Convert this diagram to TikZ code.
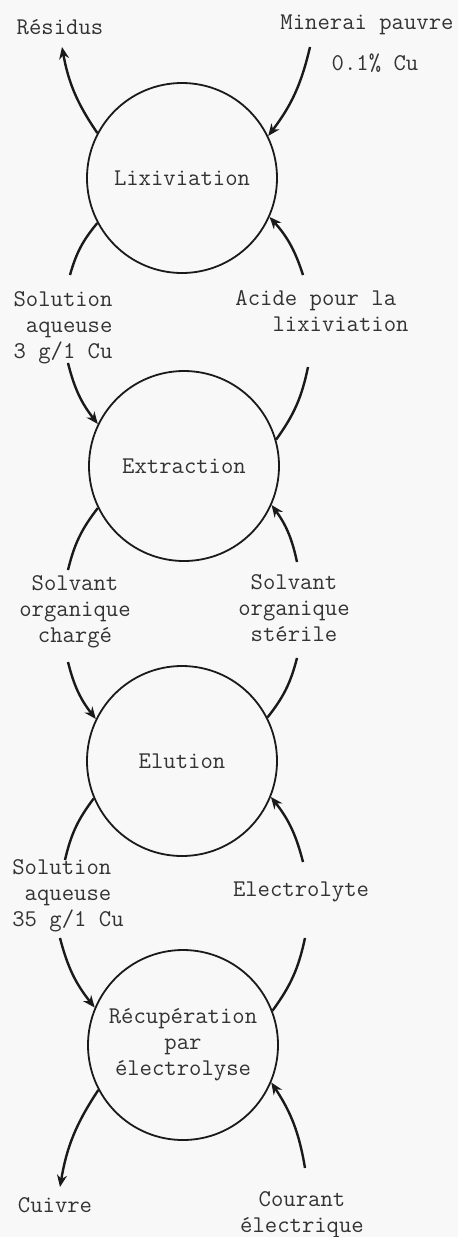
\documentclass[tikz,border=0pt]{standalone}
\usepackage{tikz}
\usetikzlibrary{arrows.meta,positioning}
\definecolor{paper}{HTML}{F8F8F8}
\definecolor{ink}{HTML}{1A1A1A}
\definecolor{txt}{HTML}{333333}

\begin{document}
\begin{tikzpicture}[x=0.5pt,y=-0.5pt,
  pr/.style={draw=ink,circle,line width=0.9pt,minimum size=95pt,inner sep=0pt,align=center,text=txt,font=\ttfamily\fontsize{12}{13}\selectfont},
  ar/.style={-{Stealth[length=6pt,width=5pt]},ink,line width=1.2pt},
  ln/.style={ink,line width=1.2pt},
  lb/.style={inner sep=0pt,text=txt,font=\ttfamily\fontsize{12}{13}\selectfont}]
\fill[paper] (0,0) rectangle (458,1237);
\useasboundingbox (0,0) rectangle (458,1237);
% etapes
\node[pr] (lix) at (182,178) {Lixiviation};
\node[pr] (ext) at (184,466) {Extraction};
\node[pr] (elu) at (182,761) {Elution};
\node[pr] (rec) at (183,1045) {Récupération\\par\\électrolyse};
% textes
\node[lb] (res) at (60,27) {Résidus};
\node[lb] (min) at (367,25) {Minerai pauvre};
\node[lb] (cu1) at (375,63) {0.1\% Cu};
\node[lb,align=left] (sol1) at (63,328) {Solution\\\hphantom{S}aqueuse\\3 g/1 Cu};
\node[lb,align=left] (aci) at (322,311) {Acide pour la\\\hphantom{Aci}lixiviation};
\node[lb,align=center] (sch) at (75,612) {Solvant\\organique\\chargé};
\node[lb,align=center] (sst) at (294,608) {Solvant\\organique\\stérile};
\node[lb,align=left] (sol2) at (68,896) {Solution\\\hphantom{S}aqueuse\\35 g/1 Cu};
\node[lb] (ely) at (301,892) {Electrolyte};
\node[lb] (cuv) at (55,1205) {Cuivre};
\node[lb,align=center] (cou) at (302,1215) {Courant\\électrique};
% extremites libres
\coordinate (lixUL) at (62,47);  \coordinate (lixUR) at (310,47);
\coordinate (lixLL) at (70,275); \coordinate (lixLR) at (303,275);
\coordinate (extUL) at (68,363); \coordinate (extUR) at (308,367);
\coordinate (extLL) at (68,570); \coordinate (extLR) at (297,562);
\coordinate (eluUL) at (68,662); \coordinate (eluUR) at (297,658);
\coordinate (eluLL) at (65,860); \coordinate (eluLR) at (303,862);
\coordinate (recUL) at (60,938); \coordinate (recUR) at (305,938);
\coordinate (recLL) at (60,1187); \coordinate (recLR) at (305,1168);
% flux
\draw[ar] (lix.152) to[bend left=12] (lixUL);
\draw[ar] (lixUR) to[bend left=12] (lix.26);
\draw[ar] (lixLR) to[bend right=12] (lix.336);
\draw[ln] (lix.208) to[bend right=12] (lixLL);
\draw[ar] (extUL) to[bend right=12] (ext.154);
\draw[ln] (ext.16) to[bend right=12] (extUR);
\draw[ln] (ext.206) to[bend right=12] (extLL);
\draw[ar] (extLR) to[bend right=12] (ext.336);
\draw[ar] (eluUL) to[bend right=12] (elu.154);
\draw[ln] (elu.27) to[bend right=12] (eluUR);
\draw[ln] (elu.203) to[bend right=12] (eluLL);
\draw[ar] (eluLR) to[bend right=12] (elu.338);
\draw[ar] (recUL) to[bend right=12] (rec.157);
\draw[ln] (rec.21) to[bend right=12] (recUR);
\draw[ar] (rec.208) to[bend right=12] (recLL);
\draw[ar] (recLR) to[bend right=12] (rec.337);
\end{tikzpicture}
\end{document}
